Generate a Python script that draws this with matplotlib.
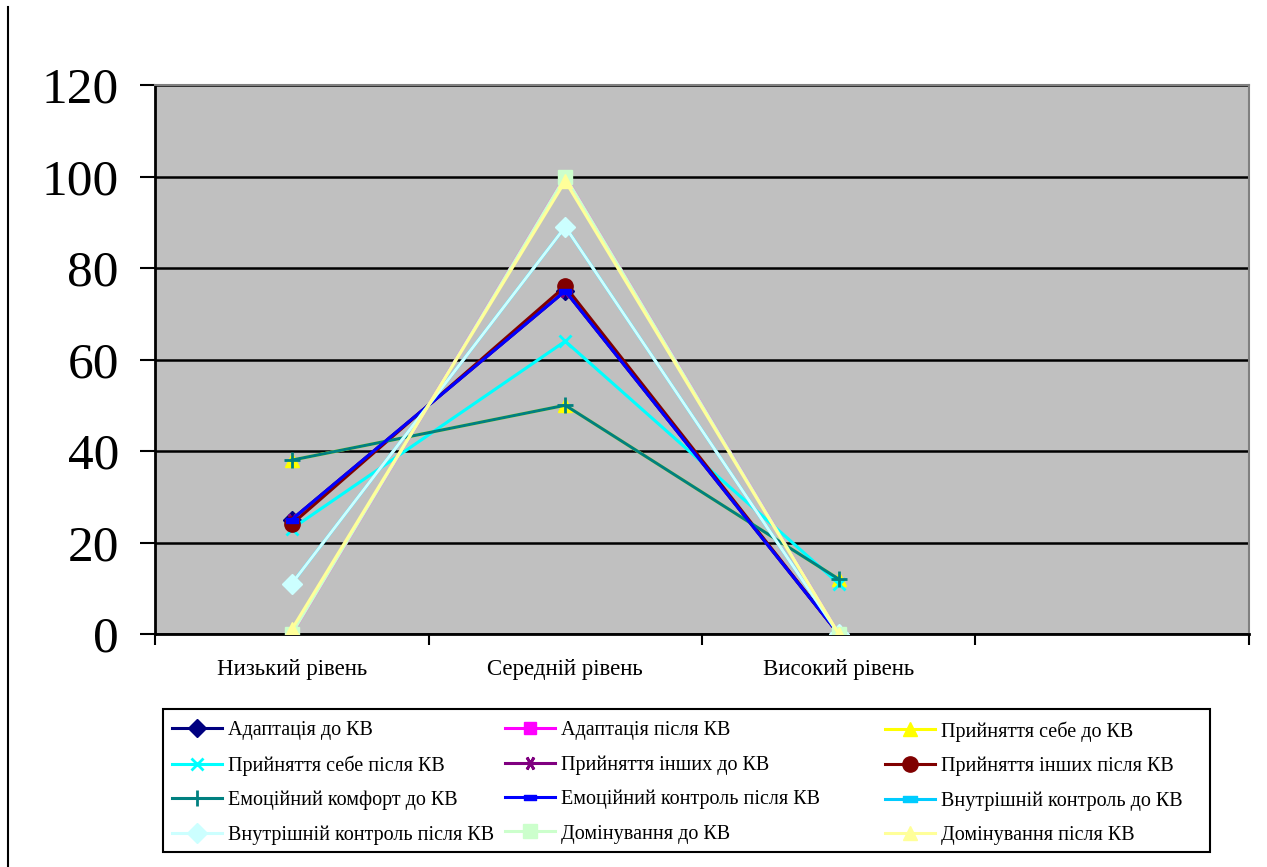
import matplotlib
matplotlib.use("Agg")
import matplotlib.pyplot as plt
from matplotlib.lines import Line2D
from matplotlib.patches import Rectangle
from matplotlib.path import Path

plt.rcParams["font.family"] = ["Liberation Serif", "DejaVu Serif"]

# Рівні (четверта категорія порожня)
categories = ["Низький рівень", "Середній рівень", "Високий рівень", ""]

series_names = [
    "Адаптація до КВ",
    "Адаптація після КВ",
    "Прийняття себе до КВ",
    "Прийняття себе після КВ",
    "Прийняття інших до КВ",
    "Прийняття інших після КВ",
    "Емоційний комфорт до КВ",
    "Емоційний контроль після КВ",
    "Внутрішній контроль до КВ",
    "Внутрішній контроль після КВ",
    "Домінування до КВ",
    "Домінування після КВ",
]

adapt_before = [25, 75, 0]
adapt_after = [0, 100, 0]
self_accept_before = [38, 50, 12]
self_accept_after = [23, 64, 11]
others_accept_before = [25, 75, 0]
others_accept_after = [24, 76, 0]
emo_comfort_before = [38, 50, 12]
emo_control_after = [25, 75, 0]
internal_before = [11, 89, 0]
internal_after = [11, 89, 0]
dominance_before = [0, 100, 0]
dominance_after = [1, 99, 0]

values = [
    adapt_before, adapt_after, self_accept_before, self_accept_after,
    others_accept_before, others_accept_after, emo_comfort_before,
    emo_control_after, internal_before, internal_after,
    dominance_before, dominance_after,
]

# маркер "риска" як у Excel
dash = Path([(-1, -0.45), (1, -0.45), (1, 0.45), (-1, 0.45), (-1, -0.45)],
            [Path.MOVETO, Path.LINETO, Path.LINETO, Path.LINETO, Path.CLOSEPOLY])

styles = [
    ("#000080", "D", 9),
    ("#FF00FF", "s", 9),
    ("#FFFF00", "^", 10),
    ("#00FFFF", "x", 9),
    ("#800080", (6, 2, 90), 10),
    ("#800000", "o", 11),
    ("#008080", "+", 11),
    ("#0000FF", dash, 8),
    ("#00CCFF", dash, 10),
    ("#CCFFFF", "D", 10),
    ("#CCFFCC", "s", 10),
    ("#FFFF99", "^", 10),
]

W, H = 1267, 867
fig = plt.figure(figsize=(W / 100, H / 100), dpi=100)
ax = fig.add_axes([155 / W, 1 - 634 / H, 1094 / W, 549 / H])
ax.set_facecolor("#C0C0C0")

x = list(range(len(adapt_before)))
handles = []
for name, vals, (color, marker, ms) in zip(series_names, values, styles):
    mew = 2 if marker in ("x", "+") or isinstance(marker, tuple) else 1
    (h,) = ax.plot(x, vals, color=color, lw=2.2, marker=marker, markersize=ms,
                   markerfacecolor=color, markeredgecolor=color,
                   markeredgewidth=mew, label=name, zorder=3)
    handles.append(h)

ax.set_xlim(-0.5, len(categories) - 0.5)
ax.set_ylim(0, 120)
ax.set_yticks(range(0, 121, 20))
ax.yaxis.grid(True, color="black", lw=1.8)
ax.set_axisbelow(True)
ax.tick_params(axis="y", labelsize=37, length=11, width=1.5, pad=15)

ax.set_xticks(range(len(categories)))
ax.set_xticklabels(categories, fontsize=16.5)
ax.set_xticks([i - 0.5 for i in range(len(categories) + 1)], minor=True)
ax.tick_params(axis="x", which="major", length=0, pad=18)
ax.tick_params(axis="x", which="minor", length=8, width=1.5)

for side in ("left", "bottom"):
    ax.spines[side].set_color("black")
    ax.spines[side].set_linewidth(2)
for side in ("top", "right"):
    ax.spines[side].set_color("#808080")
    ax.spines[side].set_linewidth(1.5)

# легенда: три колонки, рамка окремим прямокутником
fig.add_artist(Rectangle((163 / W, 1 - 852 / H), 1047 / W, 143 / H,
                         transform=fig.transFigure, fill=False,
                         edgecolor="black", lw=1.5))
col_x = [172, 505, 885]
for c, cx in enumerate(col_x):
    idx = list(range(c, len(handles), 3))
    leg = fig.legend([handles[i] for i in idx], [series_names[i] for i in idx],
                     loc="upper left", bbox_to_anchor=(cx / W, 1 - 721 / H),
                     ncol=1, fontsize=14.5, frameon=False,
                     handlelength=2.5, handletextpad=0.3,
                     labelspacing=0.75, borderpad=0, borderaxespad=0)

fig.add_artist(Line2D([8 / W, 8 / W], [0, 1 - 7 / H], color="black", lw=1.5))

fig.savefig("out.png", dpi=100)
